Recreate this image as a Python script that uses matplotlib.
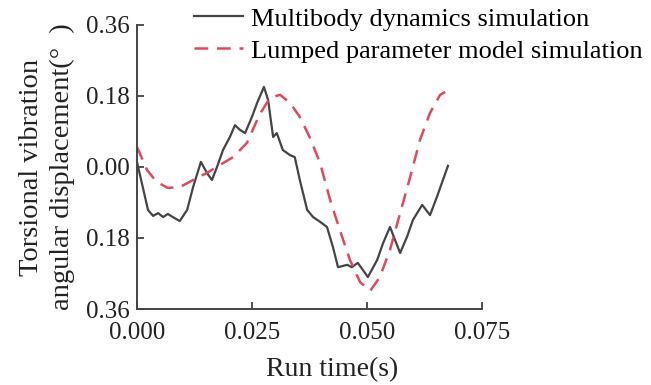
import matplotlib.pyplot as plt
import numpy as np

plt.rcParams['font.family'] = ['Liberation Serif', 'DejaVu Serif']

# Multibody dynamics simulation
t_multi = [0.0000, 0.0024, 0.0035, 0.0046, 0.0057, 0.0067, 0.0078, 0.0093,
           0.0109, 0.0122, 0.0139, 0.0152, 0.0163, 0.0174, 0.0187, 0.0202,
           0.0213, 0.0224, 0.0235, 0.0250, 0.0261, 0.0276, 0.0285, 0.0296,
           0.0304, 0.0317, 0.0333, 0.0343, 0.0354, 0.0370, 0.0383, 0.0398,
           0.0413, 0.0426, 0.0437, 0.0457, 0.0467, 0.0480, 0.0491, 0.0502,
           0.0522, 0.0535, 0.0550, 0.0561, 0.0572, 0.0587, 0.0600, 0.0620,
           0.0637, 0.0652, 0.0676]
y_multi = [0.013, -0.109, -0.124, -0.117, -0.127, -0.119, -0.127, -0.137,
           -0.109, -0.051, 0.013, -0.015, -0.033, 0.000, 0.043, 0.076,
           0.106, 0.094, 0.086, 0.127, 0.162, 0.203, 0.170, 0.076,
           0.086, 0.043, 0.030, 0.025, -0.033, -0.109, -0.127, -0.139,
           -0.152, -0.203, -0.254, -0.248, -0.254, -0.243, -0.261, -0.279,
           -0.236, -0.193, -0.152, -0.185, -0.218, -0.177, -0.134, -0.096,
           -0.122, -0.076, 0.003]

# Lumped parameter model simulation
t_lump = [0.0000, 0.0022, 0.0043, 0.0067, 0.0093, 0.0122, 0.0152, 0.0180,
          0.0209, 0.0239, 0.0267, 0.0289, 0.0311, 0.0333, 0.0354, 0.0376,
          0.0398, 0.0420, 0.0441, 0.0463, 0.0485, 0.0507, 0.0528, 0.0550,
          0.0572, 0.0594, 0.0615, 0.0637, 0.0659, 0.0670]
y_lump = [0.051, -0.008, -0.038, -0.053, -0.051, -0.033, -0.015, 0.005,
          0.025, 0.061, 0.134, 0.175, 0.183, 0.162, 0.127, 0.074,
          0.010, -0.084, -0.160, -0.236, -0.292, -0.314, -0.279, -0.210,
          -0.117, -0.025, 0.068, 0.137, 0.183, 0.190]

x_ticks = [0.000, 0.025, 0.050, 0.075]
x_labels = ['0.000', '0.025', '0.050', '0.075']
y_ticks = [-0.36, -0.18, 0.00, 0.18, 0.36]
y_labels = ['0.36', '0.18', '0.00', '0.18', '0.36']

fig = plt.figure(figsize=(6.51, 3.85), dpi=100)
ax = fig.add_axes([0.2104, 0.1974, 0.530, 0.7377])

ax.plot(t_multi, y_multi, color='#444444', lw=1.6,
        label='Multibody dynamics simulation')
ax.plot(t_lump, y_lump, color='#dc4a5c', lw=1.8, ls=(0, (5.5, 3.5)),
        label='Lumped parameter model simulation')

ax.set_xlim(0, 0.075)
ax.set_ylim(-0.36, 0.36)
ax.set_xticks(x_ticks)
ax.set_xticklabels(x_labels)
ax.set_yticks(y_ticks)
ax.set_yticklabels(y_labels)
ax.tick_params(direction='in', length=5, width=1.2, labelsize=18,
               colors='#333333', labelcolor='#222222')
ax.tick_params(axis='x', pad=9)
ax.tick_params(axis='y', pad=5)

for side in ['top', 'right']:
    ax.spines[side].set_visible(False)
for side in ['left', 'bottom']:
    ax.spines[side].set_color('#444444')
    ax.spines[side].set_linewidth(1.4)

ax.set_xlabel('Run time(s)', fontsize=20, color='#222222')
ax.xaxis.set_label_coords(0.565, -0.17)
ax.set_ylabel('Torsional vibration\nangular displacement(°  )', fontsize=20.5,
              color='#222222', labelpad=8, linespacing=1.3)

ax.legend(loc='upper left', bbox_to_anchor=(0.135, 1.10), frameon=False,
          fontsize=19, handlelength=1.85, handletextpad=0.3,
          labelspacing=0.32, borderaxespad=0)

fig.savefig('out.png', dpi=100)
